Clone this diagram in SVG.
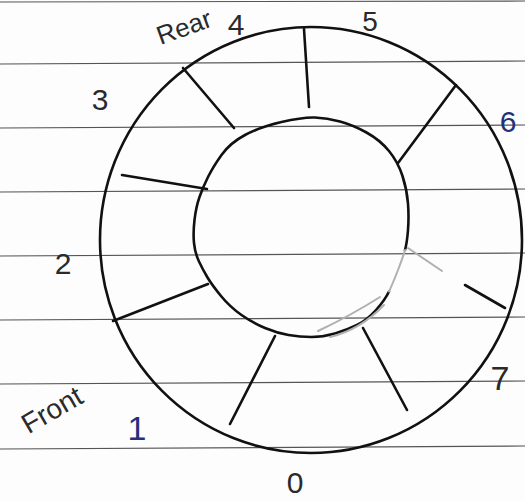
<svg xmlns="http://www.w3.org/2000/svg" width="525" height="501" viewBox="0 0 525 501">
<style>
.rule{stroke:#555;stroke-width:1.2;fill:none}
.ink{stroke:#111;stroke-width:2.6;fill:none;stroke-linecap:round;stroke-linejoin:round}
.faint{stroke:#b0b0b0;stroke-width:2;fill:none;stroke-linecap:round}
.lbl{font-family:"Liberation Sans","DejaVu Sans",sans-serif;fill:#2a2a2a;text-anchor:middle;dominant-baseline:central}
.blue{fill:#23307a}
</style>
<rect width="525" height="501" fill="#fdfdfd"/>
<g id="paper-lines">
<line class="rule" x1="0" y1="2" x2="525" y2="1"/>
<line class="rule" x1="0" y1="64" x2="525" y2="61"/>
<line class="rule" x1="0" y1="128" x2="525" y2="125"/>
<line class="rule" x1="0" y1="192" x2="525" y2="189"/>
<line class="rule" x1="0" y1="256" x2="525" y2="253"/>
<line class="rule" x1="0" y1="320" x2="525" y2="317"/>
<line class="rule" x1="0" y1="384" x2="525" y2="381"/>
<line class="rule" x1="0" y1="449" x2="525" y2="446"/>
</g>
<g id="outer-ring">
<ellipse class="ink" cx="311" cy="240" rx="211" ry="213"/>
</g>
<g id="inner-ring">
<path class="ink" d="M389,291.5 Q385,300 376,310 Q367,320 357,325 Q347,330 335,333.5 Q323,337 311.5,337 Q300,337 288.5,335 Q277,333 265,328 Q253,323 241.5,315 Q230,307 221,296 Q212,285 207.5,277.5 Q203,270 199,261.5 Q195,253 194,243 Q193,233 194.5,220 Q196,207 199.5,197 Q203,187 208,177 Q213,167 221.5,155 Q230,143 245,135 Q260,127 281.5,122 Q303,117 315,117.5 Q327,118 340,121.5 Q353,125 366.5,132.5 Q380,140 389,151 Q398,162 402.5,176 Q407,190 408,203.5 Q409,217 408,230 Q407,243 405,250"/>
<path class="faint" d="M405,250 Q403,257 398,270 Q393,283 389,291.5"/>
<path class="faint" d="M318,331 Q350,316 380,297 M330,337 Q360,330 384,305" stroke="#c4c4c4" stroke-width="1.3"/>
</g>
<g id="connectors">
<line class="ink" x1="304" y1="29" x2="309" y2="107"/>
<line class="ink" x1="183" y1="68" x2="234" y2="128"/>
<line class="ink" x1="456" y1="85" x2="398" y2="163"/>
<line class="ink" x1="122" y1="175" x2="207" y2="189"/>
<line class="ink" x1="113" y1="321" x2="208" y2="284"/>
<line class="faint" x1="408" y1="248" x2="442" y2="271"/>
<line class="ink" x1="465" y1="285" x2="505" y2="308"/>
<line class="ink" x1="275" y1="336" x2="230" y2="424"/>
<line class="ink" x1="363" y1="328" x2="407" y2="410"/>
</g>
<g id="labels">
<text class="lbl" x="0" y="0" font-size="26" fill="#333" transform="translate(184,27) rotate(-20)">Rear</text>
<text class="lbl" x="236" y="24" font-size="30">4</text>
<text class="lbl" x="370" y="21" font-size="28">5</text>
<text class="lbl" x="100" y="99" font-size="30">3</text>
<text class="lbl blue" x="508" y="121" font-size="30">6</text>
<text class="lbl" x="63" y="263" font-size="30">2</text>
<text class="lbl" x="500" y="378" font-size="34">7</text>
<text class="lbl blue" x="137" y="428" font-size="34">1</text>
<text class="lbl" x="295" y="482" font-size="30">0</text>
<text class="lbl" x="0" y="0" font-size="28" fill="#444" transform="translate(52,410) rotate(-30)">Front</text>
</g>
</svg>
